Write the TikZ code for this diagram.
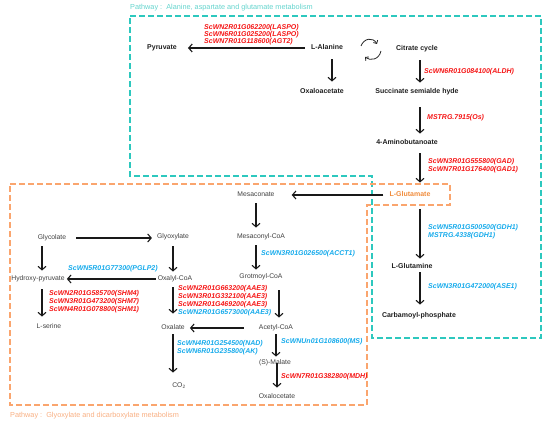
\documentclass[tikz,border=0pt]{standalone}
\usepackage{fontspec}
\setmainfont{Liberation Sans}
\usepackage{tikz}
\usetikzlibrary{arrows.meta}
\definecolor{rougegene}{RGB}{245,20,20}
\definecolor{bleugene}{RGB}{20,170,235}
\definecolor{turquoise}{RGB}{45,200,190}
\definecolor{turqtexte}{RGB}{100,212,205}
\definecolor{orangebord}{RGB}{250,165,110}
\definecolor{orangetexte}{RGB}{248,175,130}
\definecolor{orangeglu}{RGB}{240,140,60}
\colorlet{colmol}{black!88}
\tikzstyle{mol}=[inner sep=1pt, text height=5pt, text depth=1.5pt, text=colmol, font=\fontsize{7}{8}\selectfont\bfseries]
\tikzstyle{molb}=[mol, text=black!75, font=\fontsize{6.8}{8}\selectfont]
\tikzstyle{gene}=[anchor=west, inner sep=0, align=left, font=\fontsize{7}{8}\selectfont\bfseries\itshape]
\tikzstyle{rouge}=[gene, text=rougegene]
\tikzstyle{bleu}=[gene, text=bleugene]
\tikzstyle{fleche}=[-{Straight Barb[length=3.5pt,width=8pt]}, line width=1.1pt, black!90]
\tikzstyle{cadre}=[line width=1.1pt, dash pattern=on 6pt off 3pt]
\tikzstyle{titre}=[anchor=west, inner sep=0, font=\fontsize{7.3}{8}\selectfont]
\begin{document}
\begin{tikzpicture}[x=1pt,y=-1pt]
\useasboundingbox (0,0) rectangle (550,427);

%cadres
\draw[cadre,turquoise] (130,16) -- (541,16) -- (541,338) -- (372,338) -- (372,176) -- (130,176) -- cycle;
\draw[cadre,orangebord] (10,184) -- (450,184) -- (450,205) -- (367,205) -- (367,405) -- (10,405) -- cycle;
\node[titre,text=turqtexte] (titre1) at (130,8) {Pathway~:~~Alanine, aspartate and glutamate metabolism};
\node[titre,text=orangetexte] (titre2) at (10,416) {Pathway~:~~Glyoxylate and dicarboxylate metabolism};

\coordinate (colA) at (332,0);
\coordinate (col) at (420,0);
\coordinate (colG) at (42,0);
\coordinate (colR) at (279,0);

%voie alanine / glutamate
\node[mol] (pyr) at (162,48) {Pyruvate};
\node[mol] (ala) at (327,48) {L-Alanine};
\node[mol] (cit) at (417,49) {Citrate cycle};
\node[mol] (oxa) at (322,92) {Oxaloacetate};
\node[mol] (succ) at (417,92) {Succinate semialde hyde};
\node[mol] (amino) at (407,143) {4-Aminobutanoate};
\node[mol,text=orangeglu] (glu) at (410,195) {L-Glutamate};
\node[mol] (glun) at (412,267) {L-Glutamine};
\node[mol] (carb) at (419,316) {Carbamoyl-phosphate};

%voie glyoxylate
\node[molb] (mes) at (256,195) {Mesaconate};
\node[molb] (mescoa) at (261,237) {Mesaconyl-CoA};
\node[molb] (grot) at (261,277) {Grotmoyl-CoA};
\node[molb] (glyc) at (52,238) {Glycolate};
\node[molb] (glyox) at (173,237) {Glyoxylate};
\node[molb] (hyd) at (38,279) {Hydroxy-pyruvate};
\node[molb] (oxl) at (175,279) {Oxalyl-CoA};
\node[molb] (lser) at (49,327) {L-serine};
\node[molb] (oxal) at (173,328) {Oxalate};
\node[molb] (acet) at (276,328) {Acetyl-CoA};
\node[molb] (mal) at (275,363) {(S)-Malate};
\node[molb] (oxac) at (277,397) {Oxalocetate};
\node[molb] (co2) at (179,386) {CO\textsubscript{2}};

%fleches
\draw[fleche,shorten <=5pt,shorten >=10pt] (ala.west) -- (pyr.east);
\draw[fleche,shorten <=7pt,shorten >=6pt] (ala.south -| colA) -- (oxa.north -| colA);
\draw[fleche,shorten <=7pt,shorten >=5pt] (cit.south -| col) -- (succ.north -| col);
\draw[fleche,shorten <=11pt,shorten >=5pt] (succ.south -| col) -- (amino.north -| col);
\draw[fleche,shorten <=6pt,shorten >=8pt] (amino.south -| col) -- (glu.north -| col);
\draw[fleche,shorten <=10pt,shorten >=4pt] (glu.south -| col) -- (glun.north -| col);
\draw[fleche,shorten <=1pt,shorten >=7pt] (glun.south -| col) -- (carb.north -| col);
\draw[fleche,shorten <=5pt,shorten >=16pt] (glu.west) -- (mes.east);
\draw[fleche,shorten <=4pt,shorten >=5pt] (mes.south) -- (mescoa.north -| mes);
\draw[fleche,shorten <=4pt,shorten >=3pt] (mescoa.south -| mes) -- (grot.north -| mes);
\draw[fleche,shorten <=9pt,shorten >=4pt] (glyc.east) -- (glyox.west |- glyc.east);
\draw[fleche,shorten <=4pt,shorten >=4pt] (glyc.south -| colG) -- (hyd.north -| colG);
\draw[fleche,shorten <=5pt,shorten >=3pt] (glyox.south) -- (oxl.north -| glyox);
\draw[fleche,shorten <=1pt,shorten >=1pt] (oxl.west) -- (hyd.east);
\draw[fleche,shorten <=6pt,shorten >=6pt] (hyd.south -| colG) -- (lser.north -| colG);
\draw[fleche,shorten <=4pt,shorten >=10pt] (oxl.south -| oxal) -- (oxal.north);
\draw[fleche,shorten <=9pt,shorten >=6pt] (grot.south -| colR) -- (acet.north -| colR);
\draw[fleche,shorten <=14pt,shorten >=4pt] (acet.west) -- (oxal.east);
\draw[fleche,shorten <=2pt,shorten >=9pt] (oxal.south) -- (co2.north -| oxal);
\draw[fleche,shorten <=2pt,shorten >=2pt] (acet.south) -- (mal.north -| acet);
\draw[fleche,shorten <=-4pt,shorten >=5pt] (mal.south -| oxac) -- (oxac.north);

%cycle
\draw[-{Straight Barb[length=2.5pt,width=5pt]},line width=0.8pt,black!85] (361,46) .. controls (364,38) and (373,37) .. (377,44);
\draw[-{Straight Barb[length=2.5pt,width=5pt]},line width=0.8pt,black!85] (381,51) .. controls (379,60) and (370,61) .. (365,57);

%genes
\node[rouge] (laspo) at (204,35) {ScWN2R01G062200(LASPO)\\[-1pt]ScWN6R01G025200(LASPO)\\[-1pt]ScWN7R01G118600(AGT2)};
\node[rouge] (aldh) at (424,72) {ScWN6R01G084100(ALDH)};
\node[rouge] (os) at (427,118) {MSTRG.7915(Os)};
\node[rouge] (gad) at (428,166) {ScWN3R01G555800(GAD)\\ScWN7R01G176400(GAD1)};
\node[bleu] (gdh) at (428,232) {ScWN5R01G500500(GDH1)\\MSTRG.4338(GDH1)};
\node[bleu] (ase) at (428,287) {ScWN3R01G472000(ASE1)};
\node[bleu] (acct) at (261,254) {ScWN3R01G026500(ACCT1)};
\node[bleu] (pglp) at (68,269) {ScWN5R01G77300(PGLP2)};
\node[rouge] (shm) at (49,302) {ScWN2R01G585700(SHM4)\\ScWN3R01G473200(SHM7)\\ScWN4R01G078800(SHM1)};
\node[rouge] (aae) at (178,301) {ScWN2R01G663200(AAE3)\\ScWN3R01G332100(AAE3)\\ScWN2R01G469200(AAE3)\\\textcolor{bleugene}{ScWN2R01G6573000(AAE3)}};
\node[bleu] (nad) at (177,348) {ScWN4R01G254500(NAD)\\ScWN6R01G235800(AK)};
\node[bleu] (ms) at (281,342) {ScWNUn01G108600(MS)};
\node[rouge] (mdh) at (281,377) {ScWN7R01G382800(MDH)};
\end{tikzpicture}
\end{document}
